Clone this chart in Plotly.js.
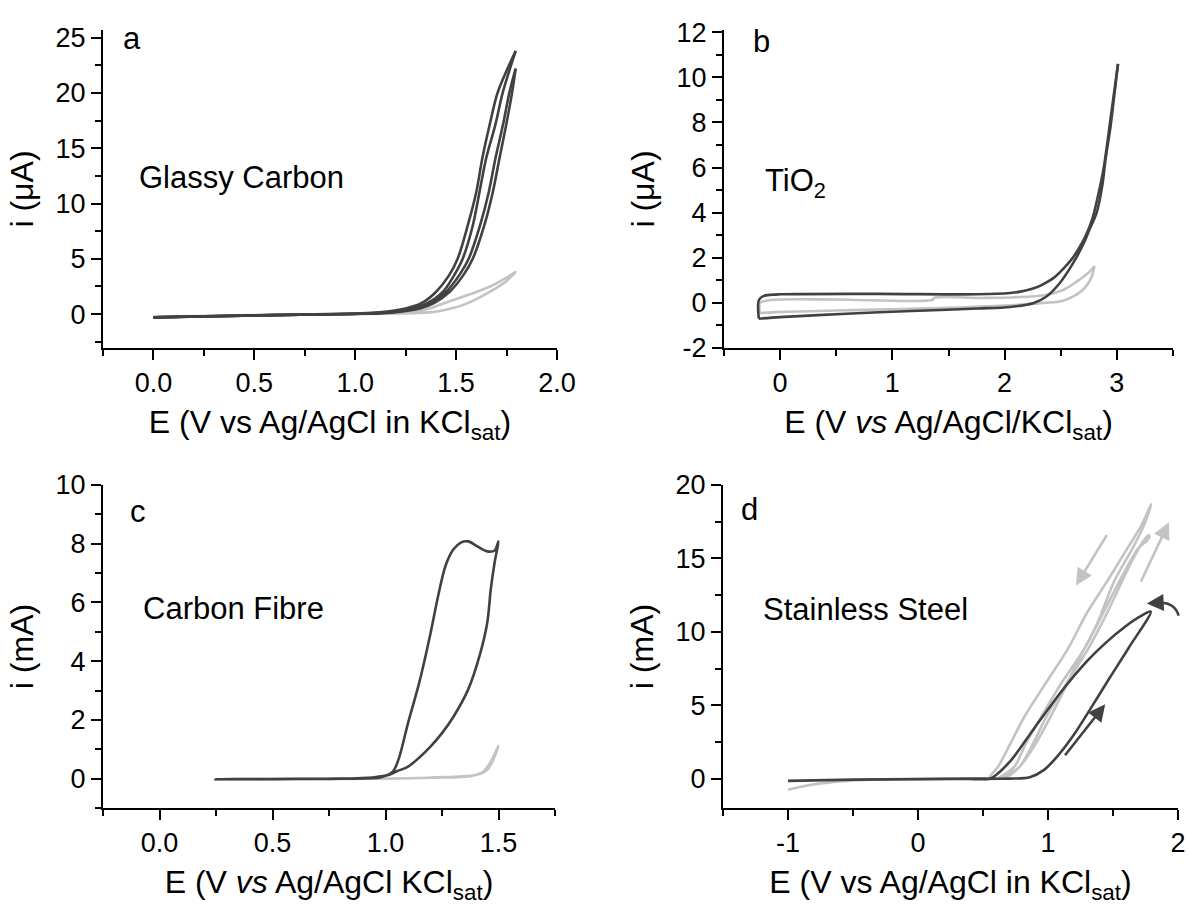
<!DOCTYPE html>
<html>
<head>
<meta charset="utf-8">
<script src="https://cdn.plot.ly/plotly-3.0.1.min.js"></script>
<style>html,body{margin:0;padding:0;background:#fff;}#chart{width:1188px;height:908px;}</style>
</head>
<body>
<div id="chart"></div>
<script>
// ---------------- Panel a: Glassy Carbon (µA) ----------------
// cycle 1 forward (rightmost line)
const aDark1E = [0.0, 0.3, 0.6, 0.9, 1.05, 1.19, 1.32, 1.39, 1.467, 1.535, 1.583, 1.64, 1.682, 1.715, 1.748, 1.778, 1.795];
const aDark1I = [-0.3, -0.2, -0.1, -0.02, 0.03, 0.15, 0.5, 1.0, 2.0, 3.5, 5.03, 8.04, 11.05, 14.1, 17.1, 20.1, 22.2];
// cycle 1 reverse
const aDark2E = [1.795, 1.765, 1.732, 1.695, 1.662, 1.619, 1.563, 1.515, 1.45, 1.375, 1.3, 1.17, 1.02, 0.8, 0.5, 0.2, 0.0];
const aDark2I = [22.2, 20.1, 17.1, 14.1, 11.05, 8.04, 5.03, 3.5, 2.0, 1.0, 0.5, 0.15, 0.03, -0.03, -0.12, -0.22, -0.3];
// cycle 2 forward
const aDark3E = [0.0, 0.3, 0.6, 0.9, 1.02, 1.15, 1.29, 1.36, 1.434, 1.49, 1.533, 1.583, 1.616, 1.649, 1.694, 1.732, 1.795];
const aDark3I = [-0.3, -0.2, -0.1, -0.02, 0.03, 0.15, 0.5, 1.0, 2.0, 3.5, 5.03, 8.04, 11.05, 14.1, 17.1, 20.1, 23.8];
// cycle 2 reverse (leftmost line)
const aDark4E = [1.795, 1.707, 1.666, 1.63, 1.6, 1.558, 1.508, 1.465, 1.40, 1.33, 1.25, 1.12, 1.0, 0.8, 0.5, 0.2, 0.0];
const aDark4I = [23.8, 20.1, 17.1, 14.1, 11.05, 8.04, 5.03, 3.5, 2.0, 1.0, 0.5, 0.15, 0.05, -0.03, -0.12, -0.22, -0.3];
const aLightE = [0.0, 0.5, 0.9, 1.1, 1.2, 1.368, 1.45, 1.533, 1.6, 1.666, 1.75, 1.795,
                 1.75, 1.666, 1.6, 1.533, 1.45, 1.368, 1.3, 1.2, 1.1, 0.9];
const aLightI = [-0.25, -0.1, 0.0, 0.02, 0.04, 0.15, 0.4, 0.81, 1.35, 2.0, 3.0, 3.83,
                 3.3, 2.47, 2.0, 1.57, 1.05, 0.5, 0.25, 0.08, 0.02, 0.0];

// ---------------- Panel b: TiO2 (µA) ----------------
const bDarkFwdE = [-0.19, 0.0, 0.59, 1.17, 1.76, 2.05, 2.26, 2.37, 2.49, 2.61, 2.7, 2.76, 2.82, 2.87, 2.9, 2.94, 2.97, 3.01];
const bDarkFwdI = [-0.7, -0.63, -0.48, -0.36, -0.25, -0.18, 0.0, 0.27, 0.87, 1.76, 2.6, 3.3, 4.0, 5.2, 6.4, 7.7, 8.9, 10.6];
const bDarkRevE = [3.01, 2.95, 2.88, 2.83, 2.78, 2.72, 2.66, 2.6, 2.52, 2.44, 2.37, 2.3, 2.23, 2.14, 2.05, 1.76, 0.88, 0.2, 0.0, -0.08, -0.15, -0.19, -0.19];
const bDarkRevI = [10.6, 8.4, 5.9, 4.7, 3.7, 2.95, 2.4, 1.95, 1.5, 1.12, 0.9, 0.72, 0.6, 0.5, 0.44, 0.38, 0.4, 0.39, 0.38, 0.36, 0.3, 0.12, -0.7];
const bLightFwdE = [-0.18, 0.0, 0.5, 1.0, 1.5, 2.0, 2.35, 2.52, 2.69, 2.77, 2.8];
const bLightFwdI = [-0.45, -0.4, -0.34, -0.28, -0.22, -0.12, 0.0, 0.1, 0.55, 1.1, 1.64];
const bLightRevE = [2.8, 2.76, 2.64, 2.52, 2.35, 2.1, 1.8, 1.37, 1.36, 0.5, 0.0, -0.12, -0.18, -0.18];
const bLightRevI = [1.64, 1.4, 0.94, 0.57, 0.34, 0.25, 0.22, 0.22, 0.14, 0.15, 0.15, 0.1, 0.0, -0.45];

// ---------------- Panel c: Carbon Fibre (mA) ----------------
const cDarkE = [0.247, 0.4, 0.6, 0.8, 0.95, 1.016, 1.05, 1.1, 1.15, 1.2, 1.25, 1.3, 1.366, 1.416, 1.45, 1.466, 1.483, 1.5,
                1.483, 1.45, 1.408, 1.366, 1.333, 1.3, 1.266, 1.233, 1.2, 1.149, 1.1, 1.057, 1.032, 0.98, 0.8, 0.5, 0.247];
const cDarkI = [-0.02, -0.02, -0.01, 0.0, 0.05, 0.13, 0.25, 0.41, 0.72, 1.1, 1.55, 2.1, 3.04, 4.18, 5.3, 6.46, 7.37, 8.08,
                7.77, 7.74, 7.9, 8.08, 8.04, 7.8, 7.26, 6.23, 4.98, 3.26, 1.9, 0.64, 0.24, 0.05, 0.0, -0.01, -0.02];
const cLightE = [0.247, 0.6, 1.0, 1.2, 1.383, 1.433, 1.466, 1.49, 1.5, 1.48, 1.45, 1.4, 1.2, 1.0];
const cLightI = [-0.02, -0.01, 0.0, 0.03, 0.09, 0.24, 0.58, 0.95, 1.12, 0.7, 0.3, 0.12, 0.04, 0.0];

// ---------------- Panel d: Stainless Steel (mA) ----------------
const dDarkE = [-1.0, -0.5, 0.0, 0.5, 0.7, 0.86, 0.97, 1.08, 1.2, 1.33, 1.47, 1.62, 1.79,
                1.70, 1.6, 1.45, 1.3, 1.1, 0.9, 0.72, 0.6, 0.55, 0.3, 0.0];
const dDarkI = [-0.15, -0.07, -0.03, 0.0, 0.0, 0.1, 0.6, 1.6, 3.0, 4.8, 6.8, 8.9, 11.38,
                11.0, 10.4, 9.3, 8.0, 5.9, 3.5, 1.3, 0.25, 0.0, -0.01, -0.02];
const dLightE = [-1.0, -0.9, -0.76, -0.5, 0.0, 0.4, 0.6, 0.69, 0.78, 0.9, 1.06, 1.23, 1.38, 1.51, 1.654, 1.74, 1.795,
                 1.715, 1.615, 1.456, 1.3, 1.154, 0.99, 0.82, 0.7, 0.615, 0.55,
                 0.66, 0.78, 0.88, 0.99, 1.15, 1.31, 1.45, 1.57, 1.65, 1.735, 1.775,
                 1.78, 1.76, 1.70, 1.55, 1.42, 1.28, 1.11, 0.95, 0.83, 0.74, 0.62];
const dLightI = [-0.75, -0.55, -0.34, -0.12, -0.03, 0.0, 0.0, 0.3, 0.8, 2.3, 4.9, 8.0, 10.6, 13.45, 15.75, 17.3, 18.7,
                 17.2, 15.75, 13.45, 11.3, 8.85, 6.6, 4.25, 2.2, 0.8, 0.05,
                 0.05, 0.8, 2.3, 4.25, 6.6, 8.85, 11.2, 13.45, 14.9, 16.2, 16.6,
                 16.45, 16.2, 15.75, 13.45, 11.2, 8.85, 6.6, 4.25, 2.4, 0.8, 0.05];
// arrows in panel d: [tailE, tailI, headE, headI]
const dArrowLightDown = [1.46, 16.7, 1.215, 13.15];
const dArrowLightUp = [1.71, 13.33, 1.93, 17.47];
const dArrowDarkUp = [1.122, 1.49, 1.44, 5.06];
// curved arrow: tail, control point, end of curve, head
const dArrowDarkCurve = [2.005, 11.1, 1.975, 12.0, 1.86, 11.98, 1.76, 11.93];

// ---------------- ticks ----------------
const aXTicks = [0, 0.5, 1.0, 1.5, 2.0], aXText = ['0.0', '0.5', '1.0', '1.5', '2.0'];
const aYTicks = [0, 5, 10, 15, 20, 25], aYText = ['0', '5', '10', '15', '20', '25'];
const bXTicks = [0, 1, 2, 3], bXText = ['0', '1', '2', '3'];
const bYTicks = [-2, 0, 2, 4, 6, 8, 10, 12], bYText = ['-2', '0', '2', '4', '6', '8', '10', '12'];
const cXTicks = [0, 0.5, 1.0, 1.5], cXText = ['0.0', '0.5', '1.0', '1.5'];
const cYTicks = [0, 2, 4, 6, 8, 10], cYText = ['0', '2', '4', '6', '8', '10'];
const dXTicks = [-1, 0, 1, 2], dXText = ['-1', '0', '1', '2'];
const dYTicks = [0, 5, 10, 15, 20], dYText = ['0', '5', '10', '15', '20'];
const aXMinor = [-0.25, 0.25, 0.75, 1.25, 1.75], aYMinor = [-2.5, 2.5, 7.5, 12.5, 17.5, 22.5];
const bXMinor = [-0.5, 0.5, 1.5, 2.5, 3.5], bYMinor = [-1, 1, 3, 5, 7, 9, 11];
const cXMinor = [-0.25, 0.25, 0.75, 1.25, 1.75], cYMinor = [-1, 1, 3, 5, 7, 9];
const dXMinor = [-1.5, -0.5, 0.5, 1.5], dYMinor = [2.5, 7.5, 12.5, 17.5];

const DARK = '#414141', LIGHT = '#c3c3c3';
const FONT = 'Liberation Sans, Arial, sans-serif';

function line(x, y, color, xa, ya) {
  return {x: x, y: y, xaxis: xa, yaxis: ya, type: 'scatter', mode: 'lines',
          line: {color: color, width: 2.6, shape: 'spline', smoothing: 0.9}, hoverinfo: 'skip'};
}

const data = [
  line(aLightE, aLightI, LIGHT, 'x', 'y'),
  line(aDark1E, aDark1I, DARK, 'x', 'y'),
  line(aDark2E, aDark2I, DARK, 'x', 'y'),
  line(aDark3E, aDark3I, DARK, 'x', 'y'),
  line(aDark4E, aDark4I, DARK, 'x', 'y'),
  line(bLightFwdE, bLightFwdI, LIGHT, 'x2', 'y2'),
  line(bLightRevE, bLightRevI, LIGHT, 'x2', 'y2'),
  line(bDarkFwdE, bDarkFwdI, DARK, 'x2', 'y2'),
  line(bDarkRevE, bDarkRevI, DARK, 'x2', 'y2'),
  line(cLightE, cLightI, LIGHT, 'x3', 'y3'),
  line(cDarkE, cDarkI, DARK, 'x3', 'y3'),
  line(dLightE, dLightI, LIGHT, 'x4', 'y4'),
  line(dDarkE, dDarkI, DARK, 'x4', 'y4')
];

function axis(domain, range, tv, tt, minorVals, title, anchor, standoff) {
  return {
    domain: domain, range: range, anchor: anchor,
    showline: true, linecolor: '#000', linewidth: 2,
    ticks: 'outside', ticklen: 10, tickwidth: 2, tickcolor: '#000',
    tickmode: 'array', tickvals: tv, ticktext: tt,
    minor: {tickmode: 'array', tickvals: minorVals, ticks: 'outside', ticklen: 6, tickwidth: 2, tickcolor: '#000', showgrid: false},
    showgrid: false, zeroline: false, mirror: false,
    tickfont: {family: FONT, size: 27, color: '#000'},
    title: {text: title, font: {family: FONT, size: 32, color: '#000'}, standoff: standoff},
    automargin: false, fixedrange: true
  };
}

const xAD = [103/1188, 557/1188], xBD = [724/1188, 1173/1188];
const xCD = [103/1188, 555/1188], xDD = [723/1188, 1178/1188];
const yTop = [(908-348)/908, (908-30)/908], yBot = [(908-808)/908, (908-485)/908];
const aXR = [-0.25, 2.0], aYR = [-3.07, 25.7];
const bXR = [-0.5, 3.5], bYR = [-2, 12.1];
const cXR = [-0.25, 1.75], cYR = [-1, 10];
const dXR = [-1.5, 2.0], dYR = [-2, 20];

// data value -> paper fraction (for the decoration that sits past the axis end)
function toPaper(v, range, dom) { return dom[0] + (v - range[0]) / (range[1] - range[0]) * (dom[1] - dom[0]); }

function txt(text, x, y, xr, yr) {
  return {text: text, x: x, y: y, xref: xr, yref: yr, xanchor: 'left', yanchor: 'middle',
          showarrow: false, font: {family: FONT, size: 31, color: '#000'}};
}
function arrow(a, color, xr, yr) {
  return {x: a[2], y: a[3], ax: a[0], ay: a[1], xref: xr, yref: yr, axref: xr, ayref: yr,
          showarrow: true, arrowhead: 2, arrowsize: 1.3, arrowwidth: 2.6, arrowcolor: color, text: ''};
}

const c = dArrowDarkCurve;
const pX = v => toPaper(v, dXR, xDD), pY = v => toPaper(v, dYR, yBot);
const curvePath = 'M ' + pX(c[0]) + ',' + pY(c[1]) + ' Q ' + pX(c[2]) + ',' + pY(c[3]) + ' ' + pX(c[4]) + ',' + pY(c[5]);

const layout = {
  width: 1188, height: 908,
  margin: {l: 0, r: 0, t: 0, b: 0},
  paper_bgcolor: '#fff', plot_bgcolor: '#fff',
  showlegend: false,
  font: {family: FONT, color: '#000'},
  xaxis: axis(xAD, aXR, aXTicks, aXText, aXMinor, 'E (V vs Ag/AgCl in KCl<sub>sat</sub>)', 'y', 13),
  yaxis: axis(yTop, aYR, aYTicks, aYText, aYMinor, 'i (\u03bcA)', 'x', 12),
  xaxis2: axis(xBD, bXR, bXTicks, bXText, bXMinor, 'E (V <i>vs</i> Ag/AgCl/KCl<sub>sat</sub>)', 'y2', 13),
  yaxis2: axis(yTop, bYR, bYTicks, bYText, bYMinor, 'i (\u03bcA)', 'x2', 12),
  xaxis3: axis(xCD, cXR, cXTicks, cXText, cXMinor, 'E (V <i>vs</i> Ag/AgCl KCl<sub>sat</sub>)', 'y3', 13),
  yaxis3: axis(yBot, cYR, cYTicks, cYText, cYMinor, 'i (mA)', 'x3', 12),
  xaxis4: axis(xDD, dXR, dXTicks, dXText, dXMinor, 'E (V vs Ag/AgCl in KCl<sub>sat</sub>)', 'y4', 13),
  yaxis4: axis(yBot, dYR, dYTicks, dYText, dYMinor, 'i (mA)', 'x4', 12),
  annotations: [
    txt('a', -0.16, 24.9, 'x', 'y'),
    txt('Glassy Carbon', -0.08, 12.4, 'x', 'y'),
    txt('b', -0.26, 11.6, 'x2', 'y2'),
    txt('TiO<sub>2</sub>', -0.15, 5.3, 'x2', 'y2'),
    txt('c', -0.14, 9.1, 'x3', 'y3'),
    txt('Carbon Fibre', -0.083, 5.8, 'x3', 'y3'),
    txt('d', -1.38, 18.3, 'x4', 'y4'),
    txt('Stainless Steel', -1.21, 11.5, 'x4', 'y4'),
    arrow(dArrowLightDown, LIGHT, 'x4', 'y4'),
    arrow(dArrowLightUp, LIGHT, 'x4', 'y4'),
    arrow(dArrowDarkUp, DARK, 'x4', 'y4'),
    arrow([c[4], c[5], c[6], c[7]], DARK, 'x4', 'y4')
  ],
  shapes: [
    {type: 'path', xref: 'paper', yref: 'paper', layer: 'above', path: curvePath,
     line: {color: DARK, width: 2.6}}
  ]
};

Plotly.newPlot('chart', data, layout, {staticPlot: true, displayModeBar: false});
</script>
</body>
</html>
